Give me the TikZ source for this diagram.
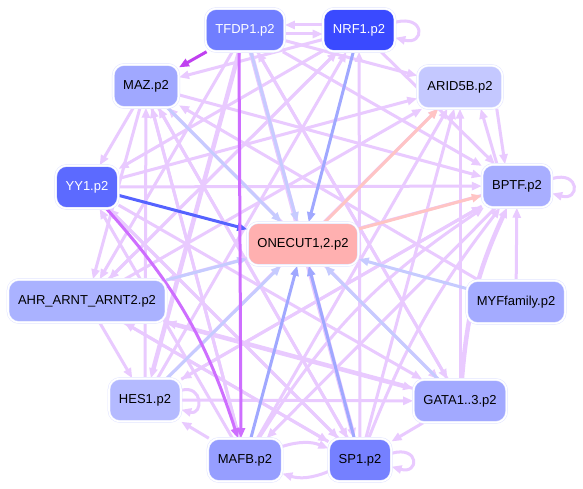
\documentclass[tikz,border=0pt]{standalone}
\usepackage{fontspec}
\setmainfont{Liberation Sans}
\usetikzlibrary{arrows.meta}
\pgfdeclarelayer{links}
\pgfsetlayers{links,main}
% edge colours
\definecolor{regLav}{RGB}{233,202,255}
\definecolor{regPurple}{RGB}{206,110,255}
\definecolor{regDeep}{RGB}{192,64,240}
\definecolor{regBlue}{RGB}{160,168,255}
\definecolor{regPale}{RGB}{198,203,255}
\definecolor{regStrong}{RGB}{85,98,255}
\definecolor{regSalmon}{RGB}{255,196,196}
\definecolor{nodeRing}{RGB}{226,229,255}
% node fills
\definecolor{fTfdp}{RGB}{112,126,255}
\definecolor{fNrf}{RGB}{58,74,255}
\definecolor{fMaz}{RGB}{160,168,255}
\definecolor{fArid}{RGB}{196,200,255}
\definecolor{fYy}{RGB}{92,106,255}
\definecolor{fBptf}{RGB}{168,174,255}
\definecolor{fOnecut}{RGB}{255,176,176}
\definecolor{fAhr}{RGB}{170,178,255}
\definecolor{fMyf}{RGB}{164,171,255}
\definecolor{fHes}{RGB}{180,186,255}
\definecolor{fGata}{RGB}{162,169,255}
\definecolor{fMafb}{RGB}{150,158,255}
\definecolor{fSp}{RGB}{117,128,255}

\begin{document}
\begin{tikzpicture}[x=1pt,y=-1pt,
  tf/.style={rounded corners=11pt, draw=nodeRing, double=white, double distance=1.6pt,
    line width=0.5pt, inner xsep=10pt, minimum height=43pt, font=\fontsize{13}{15}\selectfont},
  reg/.style={draw=regLav, line width=3pt, -{Triangle[length=10pt,width=8pt]}},
  regw/.style={reg, line width=4.5pt},
  regdark/.style={reg, draw=regPurple},
  tgt/.style={reg, draw=#1}]
\begin{pgfonlayer}{links}
\fill[white] (0,0) rectangle (583,489);
\end{pgfonlayer}
\useasboundingbox (0,0) rectangle (583,489);

% regulators
\node[tf, fill=fTfdp, text=white] (tfdp) at (245,30) {TFDP1.p2};
\node[tf, fill=fNrf, text=white] (nrf) at (359,30) {NRF1.p2};
\node[tf, fill=fMaz] (maz) at (146,86) {MAZ.p2};
\node[tf, fill=fArid] (arid) at (460,87) {ARID5B.p2};
\node[tf, fill=fYy, text=white] (yy) at (87,187) {YY1.p2};
\node[tf, fill=fBptf] (bptf) at (517,186) {BPTF.p2};
\node[tf, fill=fOnecut] (onecut) at (303,244) {ONECUT1,2.p2};
\node[tf, fill=fAhr] (ahr) at (87,301) {AHR\_ARNT\_ARNT2.p2};
\node[tf, fill=fMyf] (myf) at (516,302) {MYFfamily.p2};
\node[tf, fill=fHes] (hes) at (145,400) {HES1.p2};
\node[tf, fill=fGata] (gata) at (460,401) {GATA1..3.p2};
\node[tf, fill=fMafb] (mafb) at (245,460) {MAFB.p2};
\node[tf, fill=fSp] (sp) at (360,460) {SP1.p2};

\begin{pgfonlayer}{links}
% lavender links
\draw[reg] ([yshift=-4pt]tfdp.east) -- ([yshift=-4pt]nrf.west);
\draw[reg] ([yshift=5pt]nrf.west) -- ([yshift=5pt]tfdp.east);
\draw[reg] (nrf.12) .. controls +(30,-8) and +(30,8) .. (nrf.-12);
\draw[reg] (tfdp) -- (arid);
\draw[reg] (tfdp) -- (bptf);
\draw[reg] (tfdp) -- (gata);
\draw[regw] (tfdp) -- (sp);
\draw[regw] (tfdp) -- (hes);
\draw[reg] (tfdp) -- (ahr);
\draw[reg] (nrf) -- (maz);
\draw[reg] (nrf) -- (yy);
\draw[reg] (nrf) -- (ahr);
\draw[reg] (nrf) -- (bptf);
\draw[reg] (maz) -- (bptf);
\draw[reg] (maz) -- (gata);
\draw[reg] (maz) -- (sp);
\draw[reg] (maz) -- (yy);
\draw[reg] (maz) -- (ahr);
\draw[reg] (maz) -- (mafb);
\draw[reg] (yy) -- (arid);
\draw[reg] (yy) -- (bptf);
\draw[reg] (yy) -- (gata);
\draw[reg] (yy) -- (sp);
\draw[reg] (ahr) -- (hes);
\draw[regw] (ahr) -- (gata);
\draw[reg] (ahr) -- (sp);
\draw[reg] (ahr) -- (arid);
\draw[reg] (ahr) -- (nrf);
\draw[reg] (hes) -- (maz);
\draw[reg] (hes) -- (gata);
\draw[reg] (hes) -- (arid);
\draw[reg] (hes) -- (bptf);
\draw[reg] (hes) -- (nrf);
\draw[reg] (hes.15) .. controls +(22,-6) and +(22,6) .. (hes.-15);
\draw[reg] (mafb) -- (maz);
\draw[reg] (mafb) -- (hes);
\draw[reg] (mafb) to[bend left=20] (sp);
\draw[reg] (sp) to[bend left=20] (mafb);
\draw[reg] (mafb) to[bend left=12] (bptf);
\draw[reg] (mafb) -- (arid);
\draw[reg] (mafb) -- (yy);
\draw[reg] (sp) -- (maz);
\draw[reg] (sp) -- (nrf);
\draw[reg] (sp) -- (arid);
\draw[reg] (sp) to[bend left=8] (bptf);
\draw[reg] (sp) -- (ahr);
\draw[reg] (sp) -- (yy);
\draw[reg] (sp.12) .. controls +(28,-8) and +(28,8) .. (sp.-12);
\draw[reg] (gata) -- (sp);
\draw[reg] (gata) -- (arid);
\draw[regw] (gata) to[bend left=10] (bptf);
\draw[reg] (gata) -- (ahr);
\draw[reg] (gata) -- (maz);
\draw[reg] (gata) -- (tfdp);
\draw[reg] (myf) -- (bptf);
\draw[reg] (myf) -- (maz);
\draw[reg] ([xshift=-6pt]arid.south east) -- ([xshift=-12pt]bptf.north);
\draw[reg] ([xshift=-20pt]bptf.north) -- ([xshift=-22pt]arid.south east);
\draw[reg] (bptf.12) .. controls +(28,-8) and +(28,8) .. (bptf.-12);
\draw[reg] (bptf) -- (ahr);
\draw[reg] (bptf) -- (hes);
\draw[reg] (bptf) -- (mafb);

% links into ONECUT1,2
\draw[tgt=regPale] (tfdp) -- (onecut);
\draw[tgt=regBlue] (nrf) -- (onecut);
\draw[tgt=regPale] (maz) -- (onecut);
\draw[tgt=regStrong] (yy) -- (onecut);
\draw[tgt=regPale] (ahr) -- (onecut);
\draw[tgt=regPale] (hes) -- (onecut);
\draw[tgt=regBlue] (mafb) -- (onecut);
\draw[tgt=regBlue] (sp) -- (onecut);
\draw[tgt=regPale] (gata) -- (onecut);
\draw[tgt=regPale] (myf) -- (onecut);
\draw[tgt=regSalmon] (onecut) -- (arid);
\draw[tgt=regSalmon] (onecut) -- (bptf);

% strong links
\draw[tgt=regDeep] (tfdp) -- (maz);
\draw[regdark] ([xshift=-6pt]tfdp.south) -- ([xshift=-4pt]mafb.north);
\draw[regdark] (yy) to[bend left=12] (mafb);
\end{pgfonlayer}
\end{tikzpicture}
\end{document}
